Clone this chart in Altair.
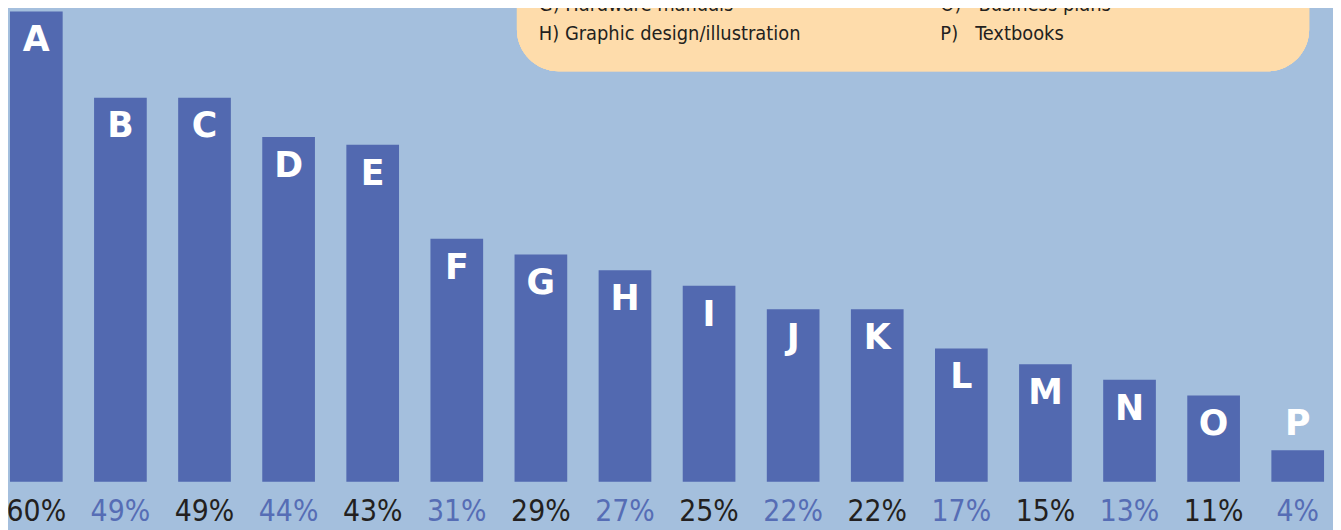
import altair as alt
import pandas as pd

# ---- data ----
categories = ["A", "B", "C", "D", "E", "F", "G", "H",
              "I", "J", "K", "L", "M", "N", "O", "P"]
percentages = [60, 49, 49, 44, 43, 31, 29, 27, 25, 22, 22, 17, 15, 13, 11, 4]

legend_keys = ["G)", "H)", "O)", "P)"]
legend_texts = ["Hardware manuals", "Graphic design/illustration",
                "Business plans", "Textbooks"]
legend_cols = [0, 0, 1, 1]
legend_rows = [0, 1, 0, 1]

BG = "#a4bfdd"
BAR = "#5269b0"
BLUE_TXT = "#566db5"
DARK = "#231f20"
BOX = "#fedcab"
NARROW = "'DejaVu Sans Condensed', 'Liberation Sans Narrow', 'DejaVu Sans', sans-serif"

df = pd.DataFrame({
    "cat": categories,
    "value": percentages,
    "pct": [f"{v}%" for v in percentages],
    "parity": [i % 2 for i in range(len(categories))],
})

leg = pd.DataFrame({
    "label": [f"{k}\u00a0{'\u00a0\u00a0' if c == 1 else ''}{t}" for k, t, c in zip(legend_keys, legend_texts, legend_cols)],
    "col": legend_cols,
    "row": legend_rows,
})

xenc = alt.X("cat:N", sort=categories, axis=None,
             scale=alt.Scale(paddingInner=0.3735, paddingOuter=0.0236))
yenc = alt.Y("value:Q", axis=None, scale=alt.Scale(domain=[0, 60.25], nice=False))

base = alt.Chart(df)

bars = base.mark_bar(color=BAR).encode(x=xenc, y=yenc)

letters_in = base.transform_filter("datum.value >= 10").mark_text(
    font="DejaVu Sans", fontWeight="bold", fontSize=35, color="white",
    baseline="middle", dy=29
).encode(x=xenc, y=yenc, text="cat:N")

letters_out = base.transform_filter("datum.value < 10").mark_text(
    font="DejaVu Sans", fontWeight="bold", fontSize=35, color="white",
    baseline="middle", dy=-26
).encode(x=xenc, y=yenc, text="cat:N")

pct = base.mark_text(
    font=NARROW, fontSize=30, baseline="alphabetic"
).encode(
    x=xenc,
    y=alt.value(515),
    text="pct:N",
    color=alt.Color("parity:N", scale=alt.Scale(domain=[0, 1], range=[DARK, BLUE_TXT]), legend=None),
)

box = alt.Chart(leg).mark_rect(color=BOX, cornerRadius=42).encode(
    x=alt.value(512), x2=alt.value(1309), y=alt.value(-90), y2=alt.value(62)
)

legend_text = alt.Chart(leg).transform_calculate(
    px="534 + datum.col * 404",
    py="1 + datum.row * 30",
).mark_text(
    font=NARROW, fontSize=20, fontWeight=500, align="left", baseline="alphabetic", color=DARK
).encode(
    x=alt.X("px:Q", scale=None, axis=None),
    y=alt.Y("py:Q", scale=None, axis=None),
    text="label:N",
)

chart = alt.layer(bars, letters_in, letters_out, pct, box, legend_text).resolve_scale(
    color="independent"
).properties(
    width=1326, height=475,
    padding={"left": 0, "top": 0, "right": 7, "bottom": 47},
    autosize="none",
    background=BG,
).configure_view(stroke=None)

chart.save("out.html", embed_options={"renderer": "svg", "actions": False})
